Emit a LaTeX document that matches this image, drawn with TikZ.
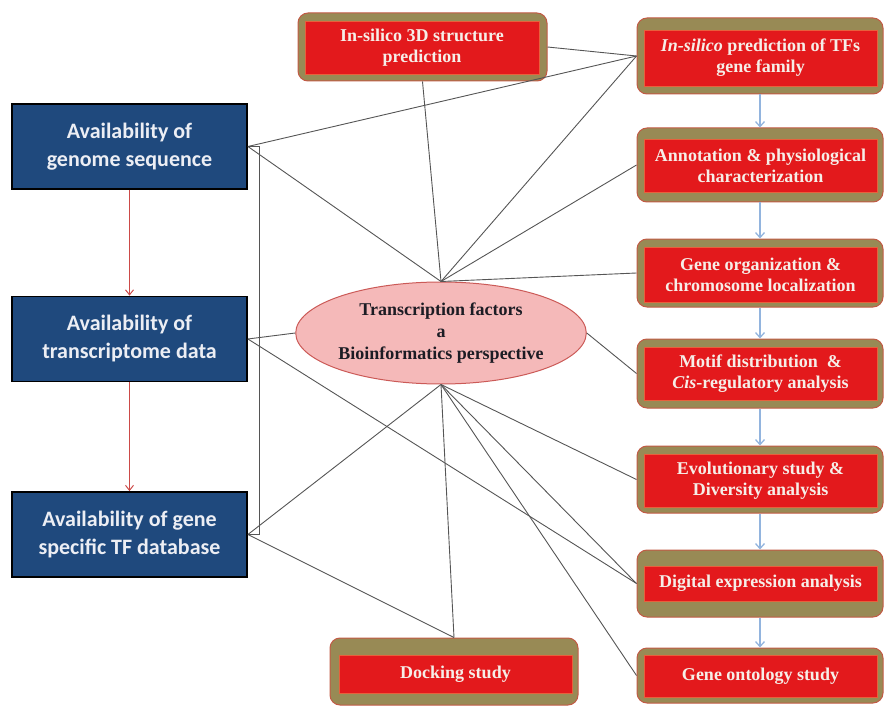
\documentclass[tikz,border=0pt]{standalone}
\usepackage{fontspec}
\setmainfont{Liberation Serif}
\newfontfamily\calfont{Carlito}
\usetikzlibrary{arrows.meta,shapes.geometric}

\definecolor{availblue}{HTML}{1F497D}
\definecolor{availtext}{HTML}{ECEEF4}
\definecolor{boxred}{HTML}{E3191C}
\definecolor{innerline}{HTML}{E8603C}
\definecolor{oliveband}{HTML}{988A55}
\definecolor{outerline}{HTML}{C25A45}
\definecolor{boxtext}{HTML}{F6EEE8}
\definecolor{ellfill}{HTML}{F5B9B9}
\definecolor{ellline}{HTML}{CB5A57}
\definecolor{elltext}{HTML}{1C1C24}
\definecolor{linkgray}{HTML}{555555}
\definecolor{arrowblue}{HTML}{92B4DE}
\definecolor{arrowred}{HTML}{CC4A48}

\begin{document}
\begin{tikzpicture}[x=1pt,y=-1pt,
  availbox/.style={draw=black, line width=1.8pt, fill=availblue, text=availtext,
    font=\calfont\bfseries\fontsize{22}{28}\selectfont, align=center,
    minimum width=235pt, minimum height=85pt, inner sep=0pt},
  tfouter/.style={draw=outerline, line width=1pt, fill=oliveband,
    rounded corners=10pt, inner sep=0pt},
  tfinner/.style={fill=boxred, draw=innerline, line width=0.8pt, text=boxtext,
    font=\bfseries\fontsize{18}{21}\selectfont, align=center, inner sep=0pt},
  hub/.style={ellipse, draw=ellline, line width=1pt, fill=ellfill, text=elltext,
    font=\bfseries\fontsize{18}{22}\selectfont, align=center,
    minimum width=246pt, minimum height=102pt, inner sep=0pt},
  link/.style={draw=linkgray, line width=0.9pt},
  flowblue/.style={draw=arrowblue, line width=1.3pt, -{Straight Barb[length=5pt,width=9pt]}},
  flowred/.style={draw=arrowred, line width=1pt, -{Straight Barb[length=5pt,width=8pt]}}]

\useasboundingbox (0,0) rectangle (884,706);

% data sources on the left
\node[availbox] (b1) at (129.5,146.5) {Availability of\\genome sequence};
\node[availbox] (b2) at (129.5,339) {Availability of\\transcriptome data};
\node[availbox] (b3) at (129.5,534.5) {Availability of gene\\specific TF database};

% central topic
\node[hub] (ell) at (441,333) {Transcription factors\\a\\Bioinformatics perspective};

% analysis boxes: olive frame with red panel
\node[tfouter, minimum width=249pt, minimum height=68pt] (t3d) at (422.5,47) {};
\node[tfinner, minimum width=234pt, minimum height=53pt] at (422,47.5) {In-silico 3D structure\\prediction};

\node[tfouter, minimum width=246pt, minimum height=76pt] (r1) at (760,56) {};
\node[tfinner, minimum width=233pt, minimum height=56pt] at (760.5,58) {\textit{In-silico} prediction of TFs\\gene family};

\node[tfouter, minimum width=246pt, minimum height=74pt] (r2) at (760,165) {};
\node[tfinner, minimum width=233pt, minimum height=53pt] at (760.5,165.5) {Annotation \& physiological\\characterization};

\node[tfouter, minimum width=246pt, minimum height=68pt] (r3) at (760,273) {};
\node[tfinner, minimum width=233pt, minimum height=55pt] at (760.5,274.5) {Gene organization \&\\chromosome localization};

\node[tfouter, minimum width=246pt, minimum height=69pt] (r4) at (760,373.5) {};
\node[tfinner, minimum width=233pt, minimum height=53pt] at (760.5,373.5) {Motif distribution~~\&\\\textit{Cis}-regulatory analysis};

\node[tfouter, minimum width=246pt, minimum height=67pt] (r5) at (760,479.5) {};
\node[tfinner, minimum width=233pt, minimum height=53pt] at (760.5,480.5) {Evolutionary study \&\\Diversity analysis};

\node[tfouter, minimum width=246pt, minimum height=67pt] (r6) at (760,583.5) {};
\node[tfinner, minimum width=233pt, minimum height=35pt] at (760.5,583.5) {Digital expression analysis};

\node[tfouter, minimum width=246pt, minimum height=55pt] (r7) at (760,675.5) {};
\node[tfinner, minimum width=233pt, minimum height=42pt] at (760.5,676) {Gene ontology study};

\node[tfouter, minimum width=248pt, minimum height=67pt] (dock) at (454,671.5) {};
\node[tfinner, minimum width=233pt, minimum height=38pt] at (455.5,674) {Docking study};

% flow between the data sources
\draw[flowred] (b1.south) -- (b2.north);
\draw[flowred] (b2.south) -- (b3.north);

% pipeline of analyses
\draw[flowblue] (r1.south) -- (r2.north);
\draw[flowblue] (r2.south) -- (r3.north);
\draw[flowblue] (r3.south) -- (r4.north);
\draw[flowblue] (r4.south) -- (r5.north);
\draw[flowblue] (r5.south) -- (r6.north);
\draw[flowblue] (r6.south) -- (r7.north);

% bracket joining the three data sources
\draw[link] (b1.east) -- ++(12,0) |- (b3.east);

% relations
\draw[link] (b1.east) -- (r1.west);
\draw[link] (b1.east) -- (ell.north);
\draw[link] (b2.east) -- (ell.west);
\draw[link] (b2.east) -- (r6.west);
\draw[link] (b3.east) -- (ell.south);
\draw[link] (b3.east) -- (dock.north);
\draw[link] (t3d.east) -- (r1.west);
\draw[link] (ell.north) -- (t3d.south);
\draw[link] (ell.north) -- (r1.west);
\draw[link] (ell.north) -- (r2.west);
\draw[link] (ell.north) -- (r3.west);
\draw[link] (ell.east) -- (r4.west);
\draw[link] (ell.south) -- (r5.west);
\draw[link] (ell.south) -- (r6.west);
\draw[link] (ell.south) -- (r7.west);
\draw[link] (ell.south) -- (dock.north);

\end{tikzpicture}
\end{document}
